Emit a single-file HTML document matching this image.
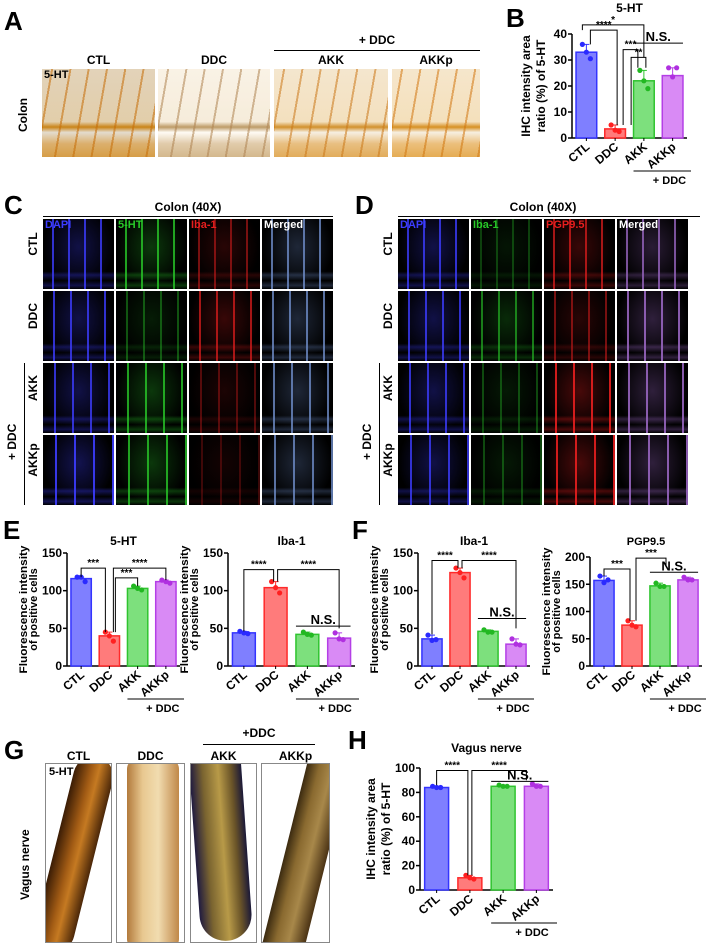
<!DOCTYPE html>
<html><head><meta charset="utf-8">
<style>
html,body{margin:0;padding:0;background:#fff;}
body{width:709px;height:943px;position:relative;overflow:hidden;font-family:"Liberation Sans",Arial,sans-serif;}
.abs{position:absolute;}
.pl{position:absolute;font-weight:bold;font-size:26px;color:#000;}
.hd{position:absolute;font-weight:bold;font-size:12px;text-align:center;color:#000;}
.tile{position:absolute;width:71px;height:70px;background:#000;overflow:hidden;}
.tile span{position:absolute;left:2px;top:0;font-size:11px;font-weight:bold;}
.ihc{position:absolute;height:88px;top:69px;background:
 repeating-linear-gradient(100deg,rgba(255,255,255,0) 0 9px,rgba(190,120,40,.55) 9px 11px,rgba(255,255,255,0) 11px 18px),
 linear-gradient(180deg,#f2e6d2 0%,#f0e0c4 60%,#c8923e 66%,#f5efe4 72%,#e2c08c 85%,#d9ad6a 100%);}
.nerve{position:absolute;top:763px;height:180px;border:1px solid #888;box-sizing:border-box;background:#fff;overflow:hidden;}
</style></head><body>

<!-- Panel A -->
<div class="pl" style="left:4px;top:6px">A</div>
<div class="hd" style="left:42px;top:53px;width:113px">CTL</div>
<div class="hd" style="left:158px;top:53px;width:112px">DDC</div>
<div class="hd" style="left:274px;top:33px;width:206px">+ DDC</div>
<div class="abs" style="left:274px;top:50px;width:206px;border-top:1px solid #000"></div>
<div class="hd" style="left:274px;top:53px;width:114px">AKK</div>
<div class="hd" style="left:392px;top:53px;width:88px">AKKp</div>
<div class="abs" style="left:16px;font-weight:bold;font-size:12px;transform:rotate(-90deg);transform-origin:left top;top:132px">Colon</div>
<div class="ihc" style="left:42px;width:113px;background-color:#e8c890;filter:saturate(1.4) brightness(.92)"></div>
<div class="ihc" style="left:158px;width:112px;filter:brightness(1.05) saturate(.6)"></div>
<div class="ihc" style="left:274px;width:114px;filter:saturate(1.2)"></div>
<div class="ihc" style="left:392px;width:88px;filter:saturate(1.3)"></div>
<div class="abs" style="left:44px;top:69px;font-size:11px;font-weight:bold">5-HT</div>

<!-- Panel C -->
<div class="pl" style="left:4px;top:190px">C</div>
<div class="hd" style="left:43px;top:200px;width:290px">Colon (40X)</div>
<div class="abs" style="left:43px;top:216px;width:290px;border-top:1px solid #000"></div>
<div id="gridC"></div>
<!-- Panel D -->
<div class="pl" style="left:355px;top:190px">D</div>
<div class="hd" style="left:398px;top:200px;width:290px">Colon (40X)</div>
<div class="abs" style="left:398px;top:216px;width:302px;border-top:1px solid #000"></div>
<div id="gridD"></div>

<!-- Panel G -->
<div class="pl" style="left:4px;top:735px">G</div>
<div class="hd" style="left:203px;top:726px;width:112px">+DDC</div>
<div class="abs" style="left:203px;top:744px;width:112px;border-top:1px solid #000"></div>
<div class="hd" style="left:45px;top:749px;width:67px">CTL</div>
<div class="hd" style="left:116px;top:749px;width:69px">DDC</div>
<div class="hd" style="left:190px;top:749px;width:67px">AKK</div>
<div class="hd" style="left:261px;top:749px;width:69px">AKKp</div>
<div class="abs" style="left:18px;top:900px;font-weight:bold;font-size:12px;transform:rotate(-90deg);transform-origin:left top">Vagus nerve</div>
<div class="nerve" style="left:45px;width:67px"><div class="abs" style="left:8px;top:-10px;width:40px;height:200px;transform:rotate(14deg);background:linear-gradient(90deg,#3a1c05,#a05a14 40%,#c57a22 60%,#4a2608);border-radius:20px"></div><div class="abs" style="left:3px;top:2px;font-size:11px;font-weight:bold">5-HT</div></div>
<div class="nerve" style="left:116px;width:69px"><div class="abs" style="left:10px;top:-5px;width:52px;height:190px;background:linear-gradient(90deg,#b27a3c,#e8c890 30%,#f1dcb0 60%,#c08848);border-radius:10px"></div></div>
<div class="nerve" style="left:190px;width:67px"><div class="abs" style="left:4px;top:-5px;width:52px;height:182px;background:linear-gradient(90deg,#1f1a40,#7a6430 25%,#b89a48 55%,#6a5428 80%,#1a1838);border-radius:0 0 26px 26px;transform:rotate(-4deg)"></div></div>
<div class="nerve" style="left:261px;width:69px"><div class="abs" style="left:22px;top:-10px;width:42px;height:210px;background:linear-gradient(90deg,#3b2a10,#8a6a30 30%,#a8884a 60%,#4a3214);transform:rotate(14deg)"></div></div>

<!-- Panel labels for charts -->
<div class="pl" style="left:506px;top:3px">B</div>
<div class="pl" style="left:3px;top:515px">E</div>
<div class="pl" style="left:352px;top:515px">F</div>
<div class="pl" style="left:348px;top:725px">H</div>

<svg id="charts" class="abs" style="left:0;top:0" width="709" height="943" xmlns="http://www.w3.org/2000/svg" font-family="Liberation Sans, Arial, sans-serif"></svg>

<script>
// ---------- Chart data ----------
const groups = ["CTL","DDC","AKK","AKKp"];
const bMeans = [33, 3.5, 22, 24];
const bPoints = [[36,33,30.5],[5,3,2.5],[26,22,19],[27,23.5,27]];
const bTicks = [0,10,20,30,40];
const e1Means = [116, 40, 103, 112];
const e1Points = [[118,118,112],[45,40,33],[106,103,101],[114,112,110]];
const e2Means = [44, 104, 42, 37];
const e2Points = [[46,44,43],[112,104,97],[45,42,41],[44,36,35]];
const eTicks = [0,50,100,150];
const f1Means = [36, 124, 46, 29];
const f1Points = [[41,34,35],[130,124,117],[48,45,45],[36,29,28]];
const f2Means = [157, 75, 147, 158];
const f2Points = [[165,153,158],[83,75,72],[152,146,146],[163,158,158]];
const f2Ticks = [0,50,100,150,200];
const hMeans = [84, 10, 85, 85];
const hPoints = [[85,84,84],[12,10,9],[86,85,85],[87,85,85]];
const hTicks = [0,20,40,60,80,100];

const fills = ["#7f7fff","#ff7b7b","#7de07d","#d98af5"];
const strokes = ["#3434ff","#ff2a2a","#2fc42f","#b43fe6"];
const dots = ["#2a2aff","#ff2020","#22b822","#b030e0"];

const NS = "http://www.w3.org/2000/svg";
const svg = document.getElementById('charts');
function mk(tag, attrs, parent, txt){
  const e = document.createElementNS(NS, tag);
  for (const k in attrs) e.setAttribute(k, attrs[k]);
  if (txt !== undefined) e.textContent = txt;
  (parent||svg).appendChild(e);
  return e;
}

function drawChart(id, cfg, means, points, ticks){
  const g = mk('g', {});
  
  
  const ymax = ticks[ticks.length-1];
  const yS = v => cfg.y0 - (v/ymax)*(cfg.y0-cfg.yT);
  const slot = (cfg.x1-cfg.x0)/4;
  const xC = i => cfg.x0 + slot*(i+0.5);
  const bw = slot*0.72;
  const ya = mk('line',{x1:cfg.x0,y1:yS(ymax),x2:cfg.x0,y2:cfg.y0,stroke:'#000','stroke-width':1.5},g);
  
  
  const xa = mk('line',{x1:cfg.x0,y1:cfg.y0,x2:cfg.x1,y2:cfg.y0,stroke:'#000','stroke-width':1.5},g);
  
  
  ticks.forEach(t=>{
    mk('line',{x1:cfg.x0-4,y1:yS(t),x2:cfg.x0,y2:yS(t),stroke:'#000','stroke-width':1.5},g);
    const tl = mk('text',{x:cfg.x0-5,y:yS(t)+4,'text-anchor':'end','font-size':12,'font-weight':'bold'},g,String(t));
    
    
  });
  means.forEach((m,i)=>{
    const r = mk('rect',{x:xC(i)-bw/2,y:yS(m),width:bw,height:cfg.y0-yS(m),fill:fills[i],stroke:strokes[i],'stroke-width':1.5},g);
    
    
    const pts = points[i];
    const mx = Math.max(...pts);
    mk('line',{x1:xC(i),y1:yS(mx),x2:xC(i),y2:yS(m),stroke:strokes[i],'stroke-width':1},g);
    mk('line',{x1:xC(i)-3,y1:yS(mx),x2:xC(i)+3,y2:yS(mx),stroke:strokes[i],'stroke-width':1},g);
    pts.forEach((p,k)=>{
      const c = mk('circle',{cx:xC(i)+(k-1)*4,cy:yS(p),r:2.6,fill:dots[i]},g);
      
      
    });
    mk('line',{x1:xC(i),y1:cfg.y0,x2:xC(i),y2:cfg.y0+3,stroke:'#000'},g);
    const lab = mk('text',{x:xC(i)+4,y:cfg.y0+10,'text-anchor':'end','font-size':12,'font-weight':'bold',transform:`rotate(-40 ${xC(i)+4} ${cfg.y0+10})`},g,groups[i]);
    
    
  });
  const by = cfg.y0 + 33;
  mk('line',{x1:xC(2)-bw/2,y1:by,x2:cfg.x1+4,y2:by,stroke:'#000','stroke-width':1},g);
  const dd = mk('text',{x:(xC(2)+cfg.x1)/2+4,y:by+13,'text-anchor':'middle','font-size':11,'font-weight':'bold'},g,'+ DDC');
  
  
  const t = mk('text',{x:(cfg.x0+cfg.x1)/2,y:cfg.ty,'text-anchor':'middle','font-size':cfg.tfs||12,'font-weight':'bold'},g,cfg.title);
  
  
  const cy = (cfg.y0+cfg.yT)/2;
  cfg.ylab.forEach((s,k)=>{
    const xx = cfg.x0 - cfg.ylOff + k*(cfg.ylSp||14);
    const at = {x:xx,y:cy,'text-anchor':'middle','font-size':cfg.ylFs||12,'font-weight':'bold',transform:`rotate(-90 ${xx} ${cy})`};
    if (cfg.ylLen && cfg.ylLen[k]) { at.textLength = cfg.ylLen[k]; at.lengthAdjust='spacingAndGlyphs'; }
    const yl = mk('text',at,g,s);
    
    
  });
  (cfg.sig||[]).forEach(s=>{
    const [a,b,yv,lab,dA,dB] = s;
    const yy = yS(yv);
    const xa = xC(a)+(s[6]||0), xb = xC(b)+(s[7]||0);
    mk('path',{d:`M${xa} ${yS(dA)} V${yy} H${xb} V${yS(dB)}`,fill:'none',stroke:'#000','stroke-width':1},g);
    const st = mk('text',{x:(xa+xb)/2,y:yy-2,'text-anchor':'middle','font-size':10,'font-weight':'bold'},g,lab);
    
    
  });
  (cfg.ns||[]).forEach(n=>{
    const yy = yS(n[2]);
    mk('line',{x1:xC(n[0])-bw/2,y1:yy,x2:xC(n[1])+bw/2,y2:yy,stroke:'#000','stroke-width':1},g);
    const st = mk('text',{x:(xC(n[0])+xC(n[1]))/2,y:yy-2,'text-anchor':'middle','font-size':13,'font-weight':'bold'},g,'N.S.');
    
    
  });
}

const fLab = ['Fluorescence intensity','of positive cells'];
drawChart('b',{x0:572,x1:687,y0:138,yT:34,title:'5-HT',ty:12,ylOff:42,ylSp:15,ylab:['IHC intensity area','ratio (%) of 5-HT'],
  sig:[[0,2,43.5,'*',41.5,31,-4,0],[0,1,41.5,'****',36,5,4,2],[1,2,34,'***',5,27,8,-6],[1,2,31,'**',5,27,16,2]],ns:[[2,3,36.5]]},bMeans,bPoints,bTicks);
drawChart('e1',{x0:67,x1:180,y0:666,yT:553,title:'5-HT',ty:545,ylOff:40,ylSp:10,ylFs:11,ylLen:[128,0],ylab:fLab,
  sig:[[0,1,130,'***',118,45,0,-4],[1,3,130,'****',45,114,4,0],[1,2,117,'***',45,106,6,0]]},e1Means,e1Points,eTicks);
drawChart('e2',{x0:228,x1:355,y0:666,yT:553,title:'Iba-1',ty:545,ylOff:40,ylSp:10,ylFs:11,ylLen:[128,0],ylab:fLab,
  sig:[[0,1,128,'****',46,112,0,-2],[1,3,128,'****',112,50,2,0]],ns:[[2,3,53]]},e2Means,e2Points,eTicks);
drawChart('f1',{x0:418,x1:530,y0:666,yT:553,title:'Iba-1',ty:545,ylOff:40,ylSp:10,ylFs:11,ylLen:[128,0],ylab:fLab,
  sig:[[0,1,140,'****',42,130,0,-2],[1,3,140,'****',130,50,2,0]],ns:[[2,3,63]]},f1Means,f1Points,eTicks);
drawChart('f2',{x0:590,x1:702,y0:666,yT:557,title:'PGP9.5',ty:545,tfs:11,ylOff:40,ylSp:10,ylFs:11,ylLen:[128,0],ylab:fLab,
  sig:[[0,1,178,'***',165,83,0,-2],[1,2,198,'***',83,185,4,6]],ns:[[2,3,172]]},f2Means,f2Points,f2Ticks);
drawChart('h',{x0:420,x1:553,y0:890,yT:768,title:'Vagus nerve',ty:752,ylOff:45,ylSp:15,ylab:['IHC intensity area','ratio (%) of 5-HT'],
  sig:[[0,1,98,'****',86,12,0,-2],[1,3,98,'****',12,90,2,-10]],ns:[[2,3,89]]},hMeans,hPoints,hTicks);

// ---------- Fluorescence grids ----------
const rowNames = ["CTL","DDC","AKK","AKKp"];
function tileBg(col, inten, k){
  const a = inten;
  const c = `rgba(${col},${a})`;
  const c2 = `rgba(${col},${a*0.35})`;
  return `repeating-linear-gradient(90deg, rgba(0,0,0,0) 0 ${9+k}px, ${c} ${9+k}px ${11+k}px, rgba(0,0,0,0) ${11+k}px ${16+k}px), radial-gradient(ellipse at 50% 40%, ${c2}, rgba(0,0,0,0) 70%), linear-gradient(180deg, #000 0%, #000 75%, ${c2} 80%, #000 88%, ${c2} 95%, #000 100%)`;
}
function buildGrid(el, x0, chans, labels, inten){
  const host = document.getElementById(el);
  rowNames.forEach((r,ri)=>{
    const y = 219 + ri*72;
    const rl = document.createElement('div');
    rl.className='abs';
    rl.style.cssText=`left:${x0-17}px;top:${y+50}px;font-size:12px;font-weight:bold;transform:rotate(-90deg);transform-origin:left top;width:50px;text-align:center;`;
    rl.textContent = r;
    
    
    host.appendChild(rl);
    chans.forEach((c,ci)=>{
      const t = document.createElement('div');
      t.className='tile';
      t.style.left = (x0 + ci*73)+'px';
      t.style.top = y+'px';
      t.style.background = tileBg(c, inten[ri][ci], ri) + ', #000';
      
      
      if (ri===0){
        const s=document.createElement('span');
        s.textContent = labels[ci];
        s.style.color = ci===3 ? '#fff' : `rgb(${c})`;
        t.appendChild(s);
      }
      host.appendChild(t);
    });
  });
  const br = document.createElement('div');
  br.className='abs';
  br.style.cssText=`left:${x0-19}px;top:363px;height:142px;border-left:1px solid #000;`;
  
  
  host.appendChild(br);
  const bl = document.createElement('div');
  bl.className='abs';
  bl.style.cssText=`left:${x0-38}px;top:460px;font-size:12px;font-weight:bold;transform:rotate(-90deg);transform-origin:left top;`;
  bl.textContent='+ DDC';
  
  
  host.appendChild(bl);
}
buildGrid('gridC',43,["60,60,255","40,200,40","230,30,30","110,140,200"],["DAPI","5-HT","Iba-1","Merged"],
  [[.8,.8,.5,.8],[.8,.4,.7,.8],[.8,.8,.35,.8],[.9,.8,.25,.8]]);
buildGrid('gridD',398,["60,60,255","40,200,40","230,30,30","150,100,190"],["DAPI","Iba-1","PGP9.5","Merged"],
  [[.8,.3,.7,.8],[.8,.6,.5,.9],[.8,.35,.9,.9],[.8,.35,.9,.9]]);
</script>
</body></html>
